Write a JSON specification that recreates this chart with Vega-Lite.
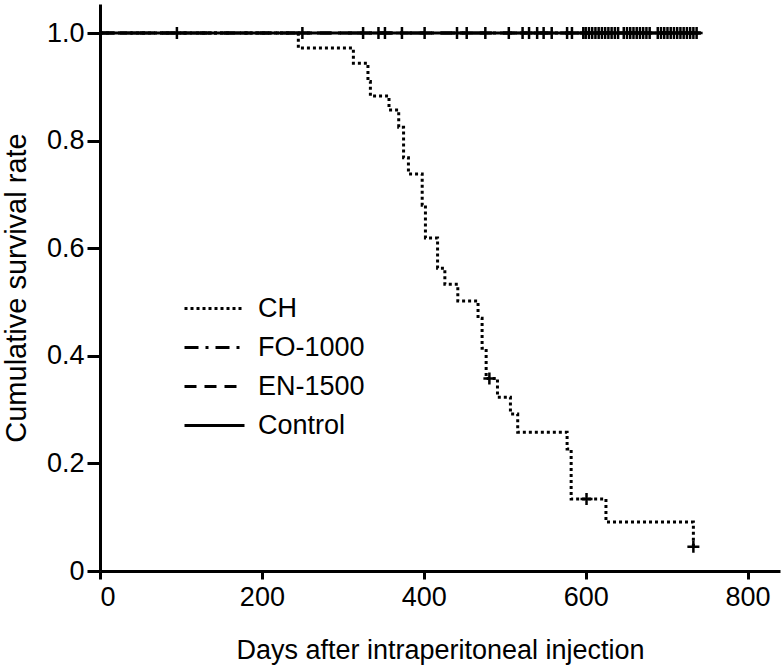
{
  "$schema": "https://vega.github.io/schema/vega-lite/v6.json",
  "width": 680,
  "height": 567,
  "autosize": {"type": "none"},
  "padding": {"left": 100, "top": 4, "right": 4, "bottom": 99},
  "background": "white",
  "config": {
    "view": {"stroke": null},
    "font": "Liberation Sans",
    "axis": {
      "grid": false,
      "domainColor": "black",
      "domainWidth": 3,
      "tickColor": "black",
      "tickWidth": 3,
      "labelColor": "black",
      "titleColor": "black",
      "labelFont": "Liberation Sans",
      "titleFont": "Liberation Sans",
      "labelFontSize": 27,
      "titleFontWeight": "normal"
    },
    "legend": {
      "labelFont": "Liberation Sans",
      "labelFontSize": 27,
      "labelColor": "black"
    }
  },
  "datasets": {
    "curves": [
      {"group": "CH", "day": 0, "surv": 1.0},
      {"group": "CH", "day": 245, "surv": 0.972},
      {"group": "CH", "day": 313, "surv": 0.944},
      {"group": "CH", "day": 331, "surv": 0.91},
      {"group": "CH", "day": 334, "surv": 0.883},
      {"group": "CH", "day": 357, "surv": 0.857},
      {"group": "CH", "day": 369, "surv": 0.825},
      {"group": "CH", "day": 375, "surv": 0.768},
      {"group": "CH", "day": 381, "surv": 0.738},
      {"group": "CH", "day": 398, "surv": 0.68},
      {"group": "CH", "day": 402, "surv": 0.619},
      {"group": "CH", "day": 417, "surv": 0.563},
      {"group": "CH", "day": 426, "surv": 0.533},
      {"group": "CH", "day": 442, "surv": 0.502},
      {"group": "CH", "day": 467, "surv": 0.47},
      {"group": "CH", "day": 472, "surv": 0.414},
      {"group": "CH", "day": 477, "surv": 0.358},
      {"group": "CH", "day": 491, "surv": 0.323},
      {"group": "CH", "day": 507, "surv": 0.292},
      {"group": "CH", "day": 516, "surv": 0.258},
      {"group": "CH", "day": 577, "surv": 0.227},
      {"group": "CH", "day": 582, "surv": 0.134},
      {"group": "CH", "day": 625, "surv": 0.091},
      {"group": "CH", "day": 733, "surv": 0.045},
      {"group": "FO-1000", "day": 0, "surv": 1.0},
      {"group": "FO-1000", "day": 742, "surv": 1.0},
      {"group": "EN-1500", "day": 0, "surv": 1.0},
      {"group": "EN-1500", "day": 742, "surv": 1.0},
      {"group": "Control", "day": 0, "surv": 1.0},
      {"group": "Control", "day": 742, "surv": 1.0}
    ],
    "censored": [
      {"group": "CH", "day": 481, "surv": 0.358},
      {"group": "CH", "day": 601, "surv": 0.134},
      {"group": "CH", "day": 733, "surv": 0.045},
      {"group": "Control", "day": 95, "surv": 1.0},
      {"group": "Control", "day": 250, "surv": 1.0},
      {"group": "Control", "day": 325, "surv": 1.0},
      {"group": "Control", "day": 344, "surv": 1.0},
      {"group": "Control", "day": 352, "surv": 1.0},
      {"group": "Control", "day": 373, "surv": 1.0},
      {"group": "Control", "day": 401, "surv": 1.0},
      {"group": "Control", "day": 441, "surv": 1.0},
      {"group": "Control", "day": 453, "surv": 1.0},
      {"group": "Control", "day": 476, "surv": 1.0},
      {"group": "Control", "day": 505, "surv": 1.0},
      {"group": "Control", "day": 522, "surv": 1.0},
      {"group": "Control", "day": 530, "surv": 1.0},
      {"group": "Control", "day": 540, "surv": 1.0},
      {"group": "Control", "day": 548, "surv": 1.0},
      {"group": "Control", "day": 558, "surv": 1.0},
      {"group": "Control", "day": 577, "surv": 1.0},
      {"group": "Control", "day": 583, "surv": 1.0},
      {"group": "Control", "day": 597, "surv": 1.0},
      {"group": "Control", "day": 600, "surv": 1.0},
      {"group": "Control", "day": 604, "surv": 1.0},
      {"group": "Control", "day": 608, "surv": 1.0},
      {"group": "Control", "day": 612, "surv": 1.0},
      {"group": "Control", "day": 616, "surv": 1.0},
      {"group": "Control", "day": 620, "surv": 1.0},
      {"group": "Control", "day": 624, "surv": 1.0},
      {"group": "Control", "day": 628, "surv": 1.0},
      {"group": "Control", "day": 632, "surv": 1.0},
      {"group": "Control", "day": 636, "surv": 1.0},
      {"group": "Control", "day": 640, "surv": 1.0},
      {"group": "Control", "day": 647, "surv": 1.0},
      {"group": "Control", "day": 651, "surv": 1.0},
      {"group": "Control", "day": 655, "surv": 1.0},
      {"group": "Control", "day": 659, "surv": 1.0},
      {"group": "Control", "day": 663, "surv": 1.0},
      {"group": "Control", "day": 667, "surv": 1.0},
      {"group": "Control", "day": 671, "surv": 1.0},
      {"group": "Control", "day": 675, "surv": 1.0},
      {"group": "Control", "day": 679, "surv": 1.0},
      {"group": "Control", "day": 689, "surv": 1.0},
      {"group": "Control", "day": 693, "surv": 1.0},
      {"group": "Control", "day": 697, "surv": 1.0},
      {"group": "Control", "day": 701, "surv": 1.0},
      {"group": "Control", "day": 705, "surv": 1.0},
      {"group": "Control", "day": 709, "surv": 1.0},
      {"group": "Control", "day": 713, "surv": 1.0},
      {"group": "Control", "day": 717, "surv": 1.0},
      {"group": "Control", "day": 721, "surv": 1.0},
      {"group": "Control", "day": 725, "surv": 1.0},
      {"group": "Control", "day": 729, "surv": 1.0},
      {"group": "Control", "day": 733, "surv": 1.0},
      {"group": "Control", "day": 737, "surv": 1.0}
    ]
  },
  "layer": [
    {
      "data": {"name": "curves"},
      "mark": {"type": "line", "interpolate": "step-after", "color": "black", "strokeWidth": 3, "strokeCap": "butt"},
      "encoding": {
        "x": {
          "field": "day", "type": "quantitative",
          "scale": {"domain": [0, 840], "nice": false, "zero": true},
          "axis": {"values": [0, 200, 400, 600, 800], "title": "Days after intraperitoneal injection", "titleFontSize": 27, "tickSize": 8, "labelPadding": 5, "titlePadding": 27}
        },
        "y": {
          "field": "surv", "type": "quantitative",
          "scale": {"domain": [0, 1.054], "nice": false},
          "axis": {"values": [0, 0.2, 0.4, 0.6, 0.8, 1.0], "title": "Cumulative survival rate", "titleFontSize": 29, "labelExpr": "datum.value == 0 ? '0' : format(datum.value, '.1f')", "tickSize": 13, "labelPadding": 3, "titlePadding": 15}
        },
        "strokeDash": {
          "field": "group", "type": "nominal",
          "scale": {"domain": ["CH", "FO-1000", "EN-1500", "Control"], "range": [[3, 3], [14, 7, 3, 7], [12, 8], [1, 0]]},
          "legend": {
            "title": null,
            "orient": "none",
            "legendX": 98,
            "legendY": 288,
            "symbolType": "M-2,0H2",
            "symbolSize": 900,
            "symbolStrokeWidth": 3,
            "symbolStrokeColor": "black",
            "symbolFillColor": "transparent",
            "labelOffset": 27,
            "rowPadding": 9
          }
        },
        "detail": {"field": "group"}
      }
    },
    {
      "data": {"name": "censored"},
      "mark": {"type": "point", "shape": "M0,-1V1M-1,0H1", "filled": false, "stroke": "black", "strokeWidth": 2.5, "size": 144, "opacity": 1},
      "encoding": {
        "x": {"field": "day", "type": "quantitative"},
        "y": {"field": "surv", "type": "quantitative"}
      }
    }
  ]
}
